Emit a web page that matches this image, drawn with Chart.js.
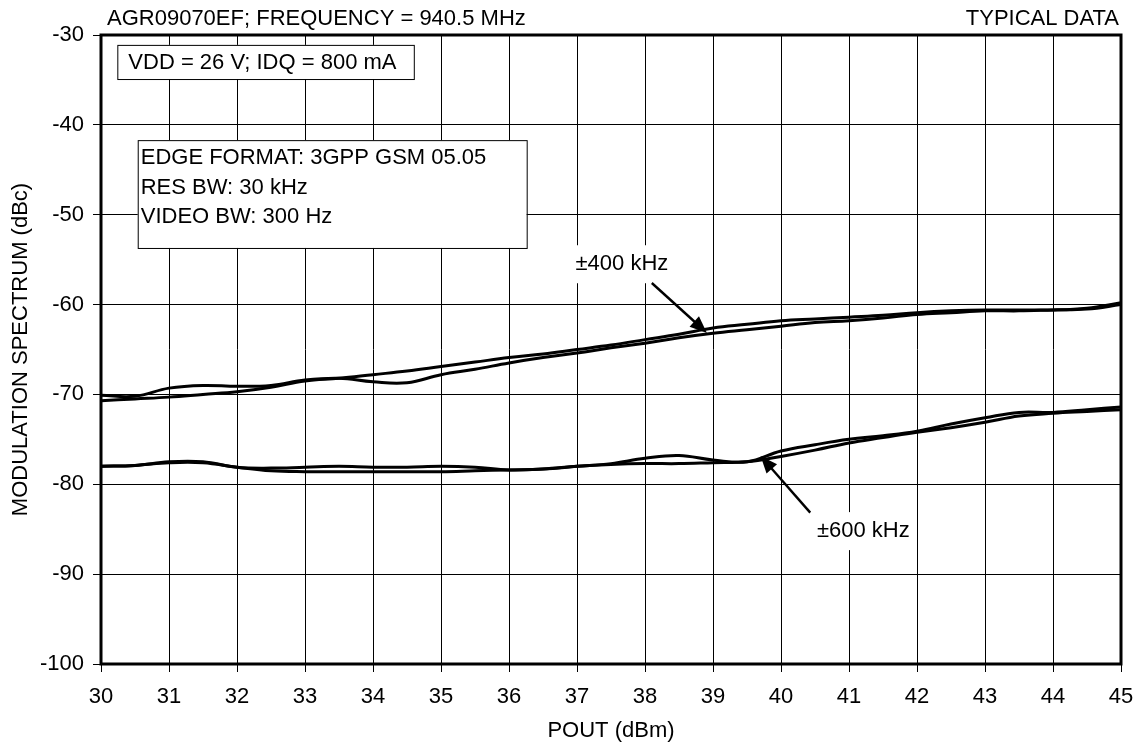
<!DOCTYPE html>
<html>
<head>
<meta charset="utf-8">
<script src="https://cdn.jsdelivr.net/npm/chart.js@4/dist/chart.umd.min.js"></script>
<style>
  html, body { margin: 0; padding: 0; background: #fff; }
  #wrap { width: 1140px; height: 747px; }
</style>
</head>
<body>
<div id="wrap"><canvas id="c" width="1140" height="747"></canvas></div>
<script>
// POUT (dBm) sample points
const pout = [30, 30.5, 31, 31.5, 32, 32.5, 33, 33.5, 34, 34.5, 35, 35.5, 36, 36.5, 37, 37.5,
              38, 38.5, 39, 39.5, 40, 40.5, 41, 41.5, 42, 42.5, 43, 43.5, 44, 44.5, 45];

// ±400 kHz, two sidebands
const mod400a = [-70.1, -70.2, -69.3, -69.0, -69.1, -69.0, -68.4, -68.2, -68.6, -68.7, -67.8, -67.2,
                 -66.5, -65.9, -65.4, -64.8, -64.3, -63.7, -63.2, -62.8, -62.4, -62.0, -61.8, -61.5,
                 -61.1, -60.9, -60.7, -60.7, -60.6, -60.5, -60.0];
const mod400b = [-70.7, -70.5, -70.3, -70.0, -69.7, -69.2, -68.5, -68.2, -67.8, -67.4, -66.9, -66.4,
                 -65.9, -65.5, -65.0, -64.5, -63.9, -63.3, -62.6, -62.2, -61.8, -61.6, -61.4, -61.2,
                 -60.9, -60.7, -60.6, -60.6, -60.6, -60.4, -59.8];

// ±600 kHz, two sidebands
const mod600a = [-78.0, -77.9, -77.5, -77.5, -78.1, -78.2, -78.1, -78.0, -78.1, -78.1, -78.0, -78.1,
                 -78.4, -78.3, -78.0, -77.7, -77.1, -76.8, -77.3, -77.5, -76.3, -75.6, -75.0, -74.6,
                 -74.1, -73.3, -72.6, -72.0, -72.0, -71.7, -71.4];
const mod600b = [-78.0, -77.9, -77.6, -77.6, -78.1, -78.5, -78.6, -78.6, -78.6, -78.6, -78.6, -78.5,
                 -78.4, -78.3, -78.0, -77.8, -77.7, -77.7, -77.6, -77.5, -76.9, -76.2, -75.4, -74.8,
                 -74.2, -73.7, -73.1, -72.4, -72.1, -71.9, -71.7];

const xTicks = [30, 31, 32, 33, 34, 35, 36, 37, 38, 39, 40, 41, 42, 43, 44, 45];
const yTicks = [-100, -90, -80, -70, -60, -50, -40, -30];

const FONT = '"Liberation Sans", Arial, Helvetica, sans-serif';
const FS = 22;

function pts(ys) {
  return pout.map((x, i) => ({ x: x, y: ys[i] }));
}
function line(ys) {
  return {
    data: pts(ys),
    borderColor: '#000',
    borderWidth: 3,
    pointRadius: 0,
    tension: 0.4,
    fill: false
  };
}

// annotation boxes / labels in data units
const notes = {
  vdd: { x0: 30.24, x1: 34.6, y0: -31.1, y1: -34.9, lines: ['VDD = 26 V; IDQ = 800 mA'] },
  edge: { x0: 30.54, x1: 36.26, y0: -41.7, y1: -53.7,
          lines: ['EDGE FORMAT: 3GPP GSM 05.05', 'RES BW: 30 kHz', 'VIDEO BW: 300 Hz'] },
  l400: { text: '±400 kHz', x: 37.66, y: -55.4, ax: 38.1, ay: -57.6, tx: 38.91, ty: -63.15 },
  l600: { text: '±600 kHz', x: 41.21, y: -85.1, ax: 40.43, ay: -83.15, tx: 39.7, ty: -76.85 }
};

function arrow(ctx, x1, y1, x2, y2) {
  const a = Math.atan2(y2 - y1, x2 - x1);
  const L = 17, W = 7;
  ctx.beginPath();
  ctx.moveTo(x1, y1);
  ctx.lineTo(x2 - L * 0.8 * Math.cos(a), y2 - L * 0.8 * Math.sin(a));
  ctx.lineWidth = 2.4;
  ctx.stroke();
  ctx.beginPath();
  ctx.moveTo(x2, y2);
  ctx.lineTo(x2 - L * Math.cos(a) + W * Math.sin(a), y2 - L * Math.sin(a) - W * Math.cos(a));
  ctx.lineTo(x2 - L * Math.cos(a) - W * Math.sin(a), y2 - L * Math.sin(a) + W * Math.cos(a));
  ctx.closePath();
  ctx.fill();
}

const extras = {
  id: 'extras',
  afterDatasetsDraw(chart) {
    const ctx = chart.ctx;
    const xs = chart.scales.x, ys = chart.scales.y;
    const area = chart.chartArea;
    ctx.save();
    ctx.fillStyle = '#000';
    ctx.strokeStyle = '#000';
    ctx.font = FS + 'px ' + FONT;
    ctx.textBaseline = 'middle';

    // header texts
    ctx.textAlign = 'left';
    ctx.fillText('AGR09070EF; FREQUENCY = 940.5 MHz', area.left + 6, 19);
    ctx.textAlign = 'right';
    ctx.fillText('TYPICAL DATA', area.right - 2, 19);

    // boxes
    ctx.textAlign = 'left';
    [notes.vdd, notes.edge].forEach((b, k) => {
      const l = xs.getPixelForValue(b.x0), r = xs.getPixelForValue(b.x1);
      const t = ys.getPixelForValue(b.y0), btm = ys.getPixelForValue(b.y1);
      ctx.fillStyle = '#fff';
      ctx.fillRect(l, t, r - l, btm - t);
      ctx.lineWidth = 1;
      ctx.strokeRect(l + 0.5, t + 0.5, r - l, btm - t);
      ctx.fillStyle = '#000';
      if (k === 0) {
        ctx.fillText(b.lines[0], l + 11, (t + btm) / 2 + 1);
      } else {
        b.lines.forEach((s, i) => ctx.fillText(s, l + 3, t + 18 + i * 29.5));
      }
    });

    // labels with arrows
    [notes.l400, notes.l600].forEach(n => {
      const cx = xs.getPixelForValue(n.x), cy = ys.getPixelForValue(n.y);
      const w = ctx.measureText(n.text).width;
      ctx.fillStyle = '#fff';
      ctx.fillRect(cx - w / 2 - 6, cy - 18, w + 12, 38);
      ctx.fillStyle = '#000';
      ctx.textAlign = 'center';
      ctx.fillText(n.text, cx, cy + 1);
      arrow(ctx, xs.getPixelForValue(n.ax), ys.getPixelForValue(n.ay),
                 xs.getPixelForValue(n.tx), ys.getPixelForValue(n.ty));
    });

    // heavy frame
    ctx.lineWidth = 3;
    ctx.strokeRect(area.left, area.top, area.right - area.left, area.bottom - area.top);
    ctx.restore();
  }
};

new Chart(document.getElementById('c'), {
  type: 'line',
  data: {
    datasets: [line(mod400a), line(mod400b), line(mod600a), line(mod600b)]
  },
  options: {
    responsive: false,
    animation: false,
    events: [],
    layout: { padding: { left: 0, right: 19, top: 35, bottom: 0 } },
    plugins: { legend: { display: false }, tooltip: { enabled: false }, title: { display: false } },
    scales: {
      x: {
        type: 'linear',
        min: 30, max: 45,
        afterBuildTicks(s) { s.ticks = xTicks.map(v => ({ value: v })); },
        afterFit(s) { s.height = 83; s.paddingLeft = 0; s.paddingRight = 0; },
        grid: { color: '#000', lineWidth: 1, tickLength: 8, drawTicks: true },
        border: { display: false },
        ticks: { color: '#000', font: { family: FONT, size: FS }, padding: 12, maxRotation: 0 },
        title: { display: true, text: 'POUT (dBm)', color: '#000', font: { family: FONT, size: FS }, padding: { top: 2, bottom: 3 } }
      },
      y: {
        min: -100, max: -30,
        afterBuildTicks(s) { s.ticks = yTicks.map(v => ({ value: v })); },
        afterFit(s) { s.width = 101; s.paddingTop = 0; s.paddingBottom = 0; },
        grid: { color: '#000', lineWidth: 1, tickLength: 8, drawTicks: true },
        border: { display: false },
        ticks: { color: '#000', font: { family: FONT, size: FS }, padding: 9 },
        title: { display: true, text: 'MODULATION SPECTRUM (dBc)', color: '#000', font: { family: FONT, size: FS }, padding: { top: 8, bottom: 4 } }
      }
    }
  },
  plugins: [extras]
});
</script>
</body>
</html>
